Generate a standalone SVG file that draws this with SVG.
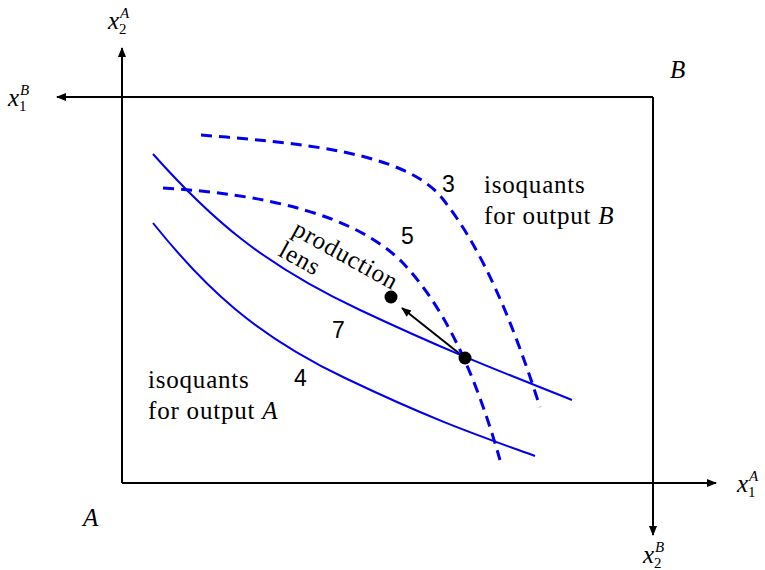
<svg xmlns="http://www.w3.org/2000/svg" width="765" height="570" viewBox="0 0 765 570">
<style>
.ax{stroke:#000;stroke-width:2;fill:none}
.sol{stroke:#0000ee;stroke-width:2;fill:none}
.dsh{stroke:#0000ee;stroke-width:3;fill:none;stroke-dasharray:11,7}
.t{font-size:25px;fill:#000;letter-spacing:0.8px}
.i{font-style:italic}
.s{font-size:23px;fill:#000}
.sub{font-size:15px;letter-spacing:0}
</style>
<defs>
<marker id="ah" viewBox="0 0 10 10" refX="9" refY="5" markerWidth="5" markerHeight="5" orient="auto" markerUnits="strokeWidth">
<path d="M0,1 L10,5 L0,9 Z" fill="#000"/>
</marker>
</defs>
<rect width="765" height="570" fill="#fff"/>
<g id="connectors">
<line class="ax" x1="122" y1="483" x2="122" y2="48" marker-end="url(#ah)"/>
<line class="ax" x1="122" y1="483" x2="716" y2="483" marker-end="url(#ah)"/>
<line class="ax" x1="653" y1="97" x2="57" y2="97" marker-end="url(#ah)"/>
<line class="ax" x1="653" y1="97" x2="653" y2="535" marker-end="url(#ah)"/>
<line x1="465" y1="358" x2="402" y2="308" stroke="#000" stroke-width="2" marker-end="url(#ah)"/>
</g>
<g id="isoA7"><path class="sol" d="M153,154 C210,218 262,264 360,310 S510,375 572,400"/></g>
<g id="isoA4"><path class="sol" d="M153,223 C205,288 255,335 345,378 S480,436 535,456"/></g>
<g id="isoB3"><path class="dsh" d="M201,135 C300,143 405,152 442,198 C482,248 512,320 540,407"/></g>
<g id="isoB5"><path class="dsh" d="M163,188 C265,194 355,215 402,262 C440,302 472,362 500,460"/></g>
<g id="points">
<circle cx="391" cy="297" r="6.5" fill="#000"/>
<circle cx="465" cy="358" r="6.5" fill="#000"/>
</g>
<g id="labels" font-family="Liberation Serif, Times New Roman, Times, serif">
<text class="t i" x="108" y="29">x<tspan class="sub" dy="-11">A</tspan><tspan class="sub" dx="-10" dy="16" font-style="normal">2</tspan></text>
<text class="t i" x="8" y="106">x<tspan class="sub" dy="-11">B</tspan><tspan class="sub" dx="-10" dy="16" font-style="normal">1</tspan></text>
<text class="t i" x="737" y="492">x<tspan class="sub" dy="-11">A</tspan><tspan class="sub" dx="-10" dy="16" font-style="normal">1</tspan></text>
<text class="t i" x="643" y="563">x<tspan class="sub" dy="-11">B</tspan><tspan class="sub" dx="-10" dy="16" font-style="normal">2</tspan></text>
<text class="t i" x="83" y="526">A</text>
<text class="t i" x="670" y="78">B</text>
<text class="s" font-family="Liberation Sans, Arial, sans-serif" x="442" y="192">3</text>
<text class="s" font-family="Liberation Sans, Arial, sans-serif" x="401" y="244">5</text>
<text class="s" font-family="Liberation Sans, Arial, sans-serif" x="332" y="338">7</text>
<text class="s" font-family="Liberation Sans, Arial, sans-serif" x="294" y="386">4</text>
<text class="t" x="484" y="193">isoquants</text>
<text class="t" x="484" y="224">for output <tspan class="i">B</tspan></text>
<text class="t" x="148" y="388">isoquants</text>
<text class="t" x="148" y="419">for output <tspan class="i">A</tspan></text>
<text class="t" transform="translate(291,234) rotate(29)">production</text>
<text class="t" transform="translate(277,255) rotate(29)">lens</text>
</g>
</svg>
